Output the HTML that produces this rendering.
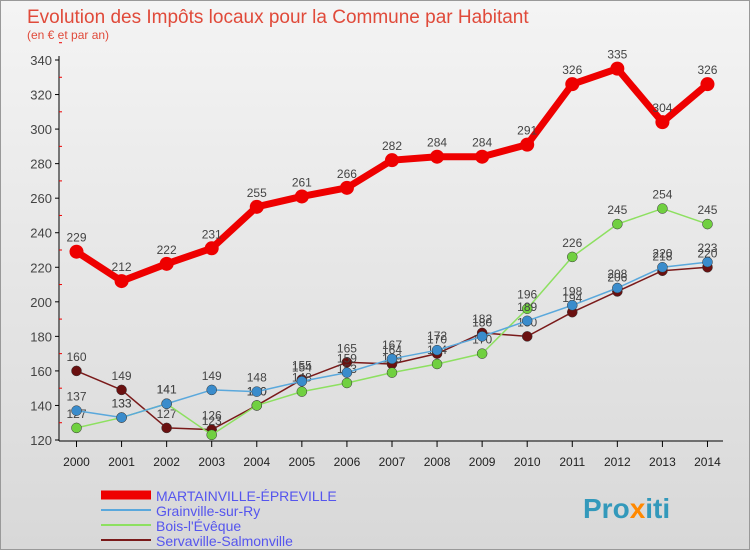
<!DOCTYPE html>
<html><head><meta charset="utf-8"><style>
body{margin:0;width:750px;height:550px;overflow:hidden;font-family:"Liberation Sans",sans-serif}
#wrap{position:relative;width:748px;height:548px;border:1px solid #999;background:linear-gradient(#f4f4f4,#d8d8d8)}
</style></head><body>
<div id="wrap">
<svg id="chart" width="748" height="548">
<text x="26" y="22" font-size="19" fill="#e04a3a">Evolution des Impôts locaux pour la Commune par Habitant</text>
<text x="26" y="38" font-size="12" fill="#e04a3a">(en € et par an)</text>
<g id="axes"></g><g id="series"></g><g id="legend"></g>
<text x="582" y="517" font-size="28" font-weight="bold" fill="#39b">Pro<tspan fill="#f80">x</tspan>iti</text>
</svg></div>
<script>
const years=[2000,2001,2002,2003,2004,2005,2006,2007,2008,2009,2010,2011,2012,2013,2014];
const yTicks=[120,140,160,180,200,220,240,260,280,300,320,340];
const martainville=[229,212,222,231,255,261,266,282,284,284,291,326,335,304,326];
const grainville=[137,133,141,149,148,154,159,167,172,180,189,198,208,220,223];
const bois=[127,133,141,123,140,148,153,159,164,170,196,226,245,254,245];
const servaville=[160,149,127,126,140,155,165,164,170,182,180,194,206,218,220];
const names=["MARTAINVILLE-ÉPREVILLE","Grainville-sur-Ry","Bois-l'Évêque","Servaville-Salmonville"];
const NS="http://www.w3.org/2000/svg";
const X=i=>75.5+i*45.07, Y=v=>439-(v-120)*1.7273;
function mk(t,a,p){const e=document.createElementNS(NS,t);for(const k in a)e.setAttribute(k,a[k]);p.appendChild(e);return e;}
const ax=document.getElementById('axes');
let l=mk('line',{x1:58,y1:55,x2:58,y2:440,stroke:'#000'},ax);


l=mk('line',{x1:58,y1:440,x2:722,y2:440,stroke:'#000'},ax);


yTicks.forEach(v=>{mk('line',{x1:54,y1:Y(v),x2:58,y2:Y(v),stroke:'#000'},ax);
 mk('line',{x1:58,y1:Y(v+10),x2:61,y2:Y(v+10),stroke:'#e00'},ax);
 const t=mk('text',{x:51,y:Y(v)+5,'font-size':13,fill:'#444','text-anchor':'end'},ax);t.textContent=v;
 
 });
years.forEach((yr,i)=>{mk('line',{x1:X(i),y1:440,x2:X(i),y2:446,stroke:'#000'},ax);
 const t=mk('text',{x:X(i),y:465,'font-size':12,fill:'#222','text-anchor':'middle'},ax);t.textContent=yr;
 
 });
const sg=document.getElementById('series');
const defs=[[servaville,'#7a1a1a','#6a1010',1.5,5],[bois,'#8de060','#70d040',1.5,5],[grainville,'#5aa8dc','#3a8ccc',1.5,5],[martainville,'#ee0000','#ee0000',7,7]];
const keys=['servaville','bois','grainville','martainville'];
defs.forEach(([d,c,mc,w,r],k)=>{const g=mk('g',{},sg);
 
 
 const p=mk('polyline',{points:d.map((v,i)=>X(i)+','+Y(v)).join(' '),fill:'none',stroke:c,'stroke-width':w,'stroke-linejoin':'round'},g);
 
 
 d.forEach((v,i)=>{const m=mk('circle',{cx:X(i),cy:Y(v),r:r,fill:mc,stroke:'#333','stroke-width':w>2?0:0.5},g);
  
  
  const t=mk('text',{x:X(i),y:Y(v)-10,'font-size':12,fill:'#444','text-anchor':'middle'},g);t.textContent=v;
  
  });});
const lg=document.getElementById('legend');
const lc=['#ee0000','#5aa8dc','#8de060','#7a1a1a'],lw=[9,2,2,2];
names.forEach((n,i)=>{const y=494+i*15;
 const ln=mk('line',{x1:100,y1:y,x2:150,y2:y,stroke:lc[i],'stroke-width':lw[i]},lg);
 
 
 const t=mk('text',{x:155,y:y+6,'font-size':14,fill:'#55e'},lg);t.textContent=n;
 
 });
</script></body></html>
